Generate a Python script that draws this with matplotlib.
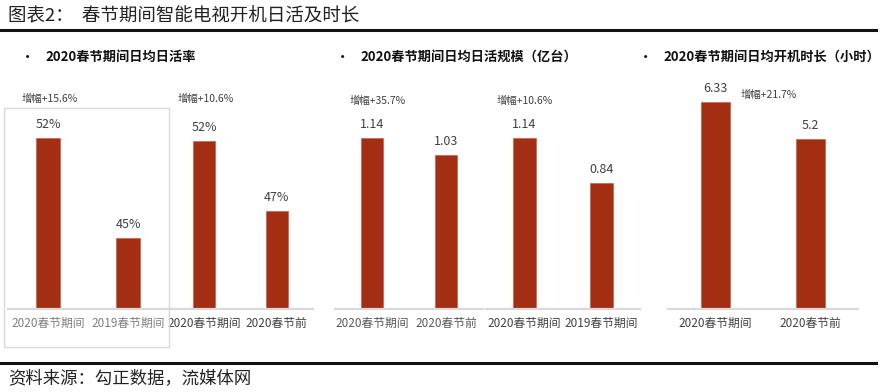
import matplotlib
matplotlib.use('Agg')
import matplotlib.pyplot as plt
from matplotlib.patches import Rectangle
from matplotlib.lines import Line2D

plt.rcParams['font.family'] = ['Noto Sans CJK SC', 'DejaVu Sans']

W, H = 880, 392

# data
rate_cats_a = ['2020春节期间', '2019春节期间']
rate_vals_a = [52, 45]
rate_growth_a = '增幅+15.6%'

rate_cats_b = ['2020春节期间', '2020春节前']
rate_vals_b = [52, 47]
rate_growth_b = '增幅+10.6%'

scale_cats_a = ['2020春节期间', '2020春节前']
scale_vals_a = [1.14, 1.03]
scale_growth_a = '增幅+35.7%'

scale_cats_b = ['2020春节期间', '2019春节期间']
scale_vals_b = [1.14, 0.84]
scale_growth_b = '增幅+10.6%'

hours_cats = ['2020春节期间', '2020春节前']
hours_vals = [6.33, 5.2]
hours_growth = '增幅+21.7%'

section_titles = ['2020春节期间日均日活率', '2020春节期间日均日活规模（亿台）', '2020春节期间日均开机时长（小时）']

bar_color = '#A32E12'
grid_gray = '#d9d9d9'


def fx(px):
    return px / W


def fy(py):
    return 1 - py / H


fig = plt.figure(figsize=(W / 100, H / 100), dpi=100)

# title and rules
fig.text(fx(8), fy(16), '图表2：  春节期间智能电视开机日活及时长', fontsize=13.3, color='#222222', va='center', ha='left')
fig.add_artist(Line2D([0, fx(876)], [fy(30), fy(30)], color='#111111', lw=2.2))
fig.add_artist(Line2D([0, fx(876)], [fy(363), fy(363)], color='#111111', lw=2.2))
fig.text(fx(8), fy(378), '资料来源：勾正数据，流媒体网', fontsize=12.5, color='#222222', va='center', ha='left', style='italic')

# section headers
for bx, tx, t in zip([20, 335, 638], [45, 360, 663], section_titles):
    fig.text(fx(bx), fy(57), '•', fontsize=11, color='#111111', va='center', ha='left')
    fig.text(fx(tx), fy(57), t, fontsize=9.5, fontweight='bold', color='#111111', va='center', ha='left')

# box around first panel
fig.add_artist(Rectangle((fx(4), fy(347)), fx(165), (347 - 108) / H, fill=False, ec=grid_gray, lw=1.0))

base_y = 309
top_y = 90


def panel(x0, x1, cats, vals, labels, ylim, growth, gx, gy, tick_color, width=0.31):
    ax = fig.add_axes([fx(x0), fy(base_y), fx(x1 - x0), (base_y - top_y) / H])
    # bars start at the bottom of the value axis
    ax.bar(range(len(vals)), [v - ylim[0] for v in vals], width=width, bottom=ylim[0],
           color=bar_color, edgecolor='#c9604a', linewidth=0.5)
    ax.set_xlim(-0.5, 1.5)
    ax.set_ylim(*ylim)
    for s in ['top', 'right', 'left']:
        ax.spines[s].set_visible(False)
    ax.spines['bottom'].set_color(grid_gray)
    ax.spines['bottom'].set_linewidth(1.6)
    ax.set_yticks([])
    ax.set_xticks(range(len(cats)), cats)
    ax.tick_params(axis='x', length=0, pad=6, labelsize=8.5, labelcolor=tick_color)
    for i, (v, lab) in enumerate(zip(vals, labels)):
        ax.annotate(lab, (i, v), xytext=(0, 5), textcoords='offset points', ha='center', va='bottom',
                    fontsize=9, color='#404040')
    ax.patch.set_alpha(0)
    fig.text(fx(gx), fy(gy), growth, fontsize=7.5, color='#404040', va='center', ha='left')
    return ax


panel(8, 168, rate_cats_a, rate_vals_a, [f'{v}%' for v in rate_vals_a], (40, 55.4),
      rate_growth_a, 22, 99, '#7f7f7f')
panel(168, 313, rate_cats_b, rate_vals_b, [f'{v}%' for v in rate_vals_b], (40, 55.6),
      rate_growth_b, 178, 99, '#404040')
panel(335, 483, scale_cats_a, scale_vals_a, [f'{v:.2f}' for v in scale_vals_a], (0, 1.46),
      scale_growth_a, 350, 101, '#595959')
panel(486, 640, scale_cats_b, scale_vals_b, [f'{v:.2f}' for v in scale_vals_b], (0, 1.46),
      scale_growth_b, 497, 101, '#404040')
panel(668, 858, hours_cats, hours_vals, [f'{v:g}' for v in hours_vals], (0, 6.71),
      hours_growth, 741, 95, '#404040', width=0.30)

fig.savefig('out.png', dpi=100)
